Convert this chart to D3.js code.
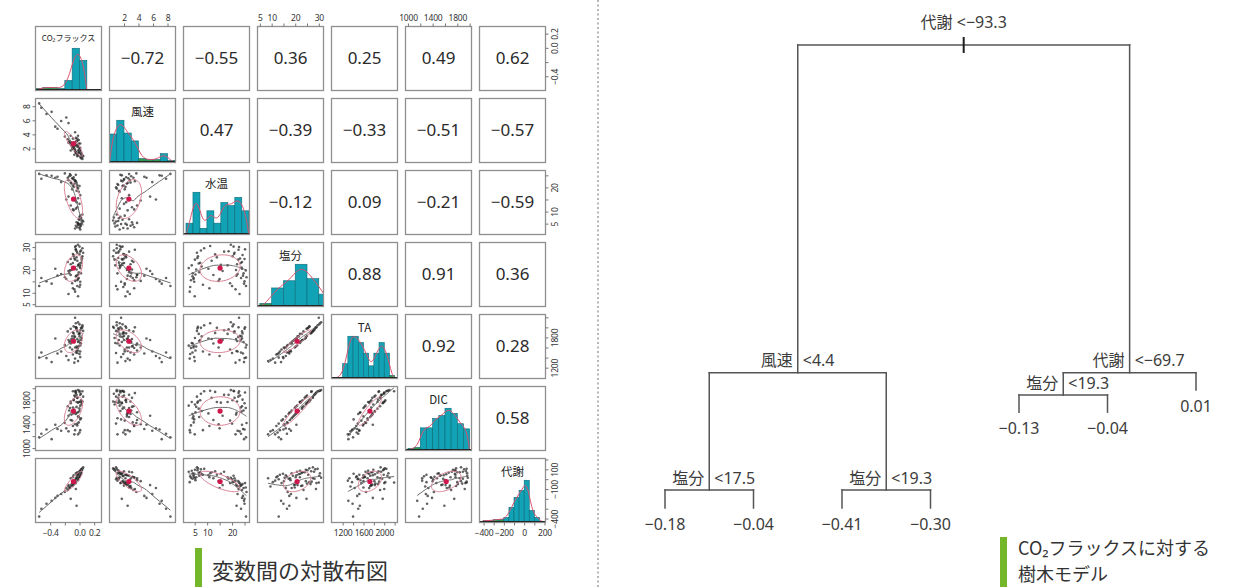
<!DOCTYPE html>
<html>
<head>
<meta charset="utf-8">
<script src="https://cdn.jsdelivr.net/npm/d3@7"></script>
<style>
  html, body { margin: 0; padding: 0; background: #fff; }
  svg { display: block; font-family: "Noto Sans", "Noto Sans CJK JP", sans-serif; }
</style>
</head>
<body>
<svg id="chart" width="1252" height="587"></svg>
<script>
// ---------- variables of the scatter matrix ----------
const varNames = ["CO₂フラックス", "風速", "水温", "塩分", "TA", "DIC", "代謝"];

// observations (winter, intermediate and summer surveys)
const co2Flux = [0.02,0.01,-0.02,0.03,0.00,-0.04,0.04,0.01,-0.01,0.02,-0.03,0.05,0.00,-0.05,0.03,0.01,-0.02,0.02,-0.06,0.00,0.04,-0.01,0.01,-0.02,
  -0.08,-0.03,-0.12,0.00,-0.06,-0.02,-0.15,0.01,-0.09,-0.04,-0.18,-0.05,
  -0.06,-0.10,-0.03,-0.14,-0.08,-0.05,-0.12,-0.02,-0.20,-0.07,-0.11,-0.04,-0.16,-0.09,-0.13,-0.06,-0.30,-0.45,-0.52,-0.38,-0.55,-0.25,-0.10,-0.07,-0.15,-0.03,-0.08,-0.01,-0.05,-0.12,-0.04,0.00,-0.33,-0.09];
const windSpeed = [1.1,0.8,2.4,0.7,1.9,3.1,0.5,1.6,2.7,1.3,3.4,0.9,1.5,2.9,1.2,2.1,3.8,0.6,2.5,1.8,1.0,3.2,1.4,2.2,
  2.5,3.1,3.8,2.0,4.3,1.7,5.6,2.7,3.4,2.3,6.4,1.4,
  1.8,2.6,1.2,3.0,2.2,1.5,2.9,1.0,3.7,2.0,2.4,1.3,3.3,1.9,2.7,1.6,4.8,6.9,7.8,7.2,8.4,5.9,2.1,1.1,2.8,0.9,2.3,1.4,3.5,1.7,2.5,1.8,5.1,2.0];
const waterTemp = [4.2,3.8,4.5,5.1,3.2,5.6,6.3,4.8,6.8,7.2,3.5,5.9,7.8,4.1,6.1,8.3,5.3,7.5,3.0,6.6,8.8,4.6,2.6,5.0,
  10.5,11.8,12.5,13.2,14.6,15.5,16.2,16.8,10.9,13.9,15.0,11.2,
  22.5,23.8,21.0,24.6,20.2,25.2,22.0,19.5,25.8,23.2,21.6,18.6,24.0,20.8,25.5,22.8,24.4,25.0,23.6,24.8,25.6,22.2,19.2,21.4,23.0,20.0,24.2,18.2,22.6,25.0,21.8,20.6,24.0,23.5];
const salinity = [18.5,22.0,16.0,24.5,12.5,20.2,26.0,14.8,19.0,23.1,15.5,27.5,21.5,17.2,25.2,13.5,18.0,28.5,10.5,22.8,29.5,16.5,20.8,8.5,
  20.5,24.0,17.8,26.8,15.2,22.2,19.5,28.0,12.0,25.5,16.0,30.5,
  24.5,21.0,27.5,18.5,26.0,29.0,22.5,31.0,16.8,25.0,20.0,28.2,23.5,27.0,19.8,30.0,17.5,15.0,16.5,14.0,13.0,18.2,14.2,11.5,9.5,13.0,26.5,22.0,28.8,24.8,17.5,30.2,20.5,23.0];
const alkalinity = [1680,1690,1600,1790,1470,1620,2010,1410,1730,1750,1590,1930,1820,1500,1980,1520,1540,1990,1380,1870,2040,1630,1640,1330,
  1780,1770,1680,1890,1600,1710,1750,1940,1460,1990,1430,2080,
  1810,1820,1920,1710,2020,2000,1730,2100,1650,1830,1770,1960,1920,1900,1600,2190,1480,1390,1500,1310,1400,1520,1560,1300,1350,1490,1880,1870,2000,1970,1530,2060,1780,1750];
const dicValues = [1500,1770,1530,1730,1260,1690,1780,1480,1520,1800,1380,1860,1620,1570,1760,1300,1600,1910,1300,1660,1950,1430,1710,1230,
  1580,1840,1470,1940,1400,1760,1540,1890,1370,1770,1330,1960,
  1860,1610,1840,1630,1800,1930,1780,1970,1420,1880,1560,1890,1700,1950,1670,1950,1320,1310,1240,1150,1180,1290,1460,1230,1280,1410,1810,1770,1920,1750,1590,1960,1390,1680];
const metabolism = [60,85,40,95,30,20,110,55,35,70,15,120,50,5,90,45,-10,100,-30,65,105,25,75,10,
  40,70,10,80,-20,55,-60,75,20,45,-90,60,
  -20,-60,10,-90,-30,-40,-70,15,-130,-45,-55,5,-110,-25,-85,-35,-170,-250,-300,-220,-380,-150,-40,-15,-75,0,-50,20,-100,-200,-270,35,-190,-65];

// value range of each variable in its panels
const varDomains = [[-0.6, 0.3], [0, 9.1], [0.5, 27], [4, 32], [985, 2255], [960, 2030], [-440, 210]];

// correlation coefficients, upper triangle, row by row
const corrValues = [-0.72, -0.55, 0.36, 0.25, 0.49, 0.62,
  0.47, -0.39, -0.33, -0.51, -0.57,
  -0.12, 0.09, -0.21, -0.59,
  0.88, 0.91, 0.36,
  0.92, 0.28,
  0.58];

// histogram bins on the diagonal
const histStart = [-0.6, 0, 1.5, 5, 1000, 1000, -450];
const histStep = [0.1, 1, 2.8, 5, 100, 100, 50];
const co2Hist = [2, 3, 3, 2, 10, 42, 30];
const windHist = [29, 43, 30, 22, 4, 3, 3, 9, 2];
const tempHist = [11, 41, 6, 23, 11, 31, 28, 36, 23];
const salHist = [3, 18, 25, 41, 27, 12];
const taHist = [1, 1, 14, 40, 40, 34, 24, 12, 24, 34, 24, 3];
const dicHist = [2, 3, 22, 22, 31, 34, 41, 36, 26, 21];
const metHist = [1, 2, 2, 3, 3, 5, 15, 25, 32, 42, 12, 5, 1];

// axis ticks and the tick labels that are printed
const axisTicks = [[-0.4, -0.2, 0, 0.2], [2, 4, 6, 8], [5, 10, 15, 20, 25], [5, 10, 15, 20, 25, 30],
  [1200, 1400, 1600, 1800, 2000, 2200], [1000, 1200, 1400, 1600, 1800, 2000], [-400, -300, -200, -100, 0, 100, 200]];
const outerLabels = [[-0.4, 0, 0.2], [2, 4, 6, 8], [5, 10, 20], [5, 10, 20, 30], [1200, 1600, 2000], [1000, 1400, 1800], [-400, -200, 0, 200]];
const sideLabels = [[-0.4, 0, 0.2], [2, 4, 6, 8], [5, 10, 20], [5, 10, 20, 30], [1200, 1800], [1000, 1400, 1800], [-400, -100, 100]];

// ---------- regression tree ----------
const treeNodes = [
  { id: "n1", parent: null, split: "代謝", threshold: -93.3, dev: 1.000 },
  { id: "n2", parent: "n1", split: "風速", threshold: 4.4, dev: 0.292 },
  { id: "n4", parent: "n2", split: "塩分", threshold: 17.5, dev: 0.039 },
  { id: "n8", parent: "n4", value: -0.18, dev: 0 },
  { id: "n9", parent: "n4", value: -0.04, dev: 0 },
  { id: "n5", parent: "n2", split: "塩分", threshold: 19.3, dev: 0.039 },
  { id: "n10", parent: "n5", value: -0.41, dev: 0 },
  { id: "n11", parent: "n5", value: -0.30, dev: 0 },
  { id: "n3", parent: "n1", split: "代謝", threshold: -69.7, dev: 0.292 },
  { id: "n6", parent: "n3", split: "塩分", threshold: 19.3, dev: 0.244 },
  { id: "n12", parent: "n6", value: -0.13, dev: 0.207 },
  { id: "n13", parent: "n6", value: -0.04, dev: 0.207 },
  { id: "n7", parent: "n3", value: 0.01, dev: 0.255 }
];

// ================= drawing =================
const svg = d3.select("#chart");
const series = [co2Flux, windSpeed, waterTemp, salinity, alkalinity, dicValues, metabolism];
const hists = [co2Hist, windHist, tempHist, salHist, taHist, dicHist, metHist];
const idx = d3.range(7);
const gx = d3.scaleBand().domain(idx).range([35.5, 545.5]).paddingInner(8 / 74);
const gy = d3.scaleBand().domain(idx).range([26.5, 522.5]).paddingInner(8 / 72);
const bw = gx.bandwidth(), bh = gy.bandwidth();
const xScale = k => d3.scaleLinear().domain(varDomains[k]).range([gx(k), gx(k) + bw]);
const yScale = k => d3.scaleLinear().domain(varDomains[k]).range([gy(k) + bh, gy(k)]);
const tickFmt = idx.map(k => k === 0 ? d3.format(".1f") : d3.format("d"));
const corrFmt = d3.format(".2f");

function pearson(a, b) {
  const ma = d3.mean(a), mb = d3.mean(b);
  let sab = 0, saa = 0, sbb = 0;
  a.forEach((v, i) => { sab += (v - ma) * (b[i] - mb); saa += (v - ma) ** 2; sbb += (b[i] - mb) ** 2; });
  return sab / Math.sqrt(saa * sbb);
}

// locally weighted linear smoother
function lowess(xv, yv, span) {
  const order = d3.range(xv.length).sort((a, b) => xv[a] - xv[b]);
  const xs = order.map(i => xv[i]), ys = order.map(i => yv[i]);
  const n = xs.length, q = Math.max(3, Math.floor(span * n));
  return xs.map(x0 => {
    const dist = xs.map(x => Math.abs(x - x0));
    const h = Math.max(dist.slice().sort((a, b) => a - b)[q - 1], 1e-9) * 1.0001;
    let sw = 0, sx = 0, sy = 0, sxx = 0, sxy = 0;
    for (let j = 0; j < n; j++) {
      const u = dist[j] / h;
      if (u >= 1) continue;
      const w = Math.pow(1 - u * u * u, 3);
      sw += w; sx += w * xs[j]; sy += w * ys[j]; sxx += w * xs[j] * xs[j]; sxy += w * xs[j] * ys[j];
    }
    const mx = sx / sw, my = sy / sw, vx = sxx / sw - mx * mx;
    const b = vx > 1e-12 ? (sxy / sw - mx * my) / vx : 0;
    return [x0, my + b * (x0 - mx)];
  });
}

const defs = svg.append("defs");
const matrix = svg.append("g");
let corrIndex = 0;

idx.forEach(row => idx.forEach(col => {
  const x0 = gx(col), y0 = gy(row);
  const clipId = `clip-${row}-${col}`;
  defs.append("clipPath").attr("id", clipId)
    .append("rect").attr("x", x0).attr("y", y0).attr("width", bw).attr("height", bh);
  const g = matrix.append("g");
  const inner = g.append("g").attr("clip-path", `url(#${clipId})`);

  if (row === col) {
    // histogram with smoothed outline
    const xs = xScale(col);
    const counts = hists[col];
    const maxC = d3.max(counts);
    const ys = d3.scaleLinear().domain([0, maxC / 0.66]).range([y0 + bh, y0]);
    const bins = counts.map((c, i) => ({ a: histStart[col] + i * histStep[col], b: histStart[col] + (i + 1) * histStep[col], c }));
    inner.selectAll("rect.bar").data(bins).join("rect")
      .attr("class", "bar")
      .attr("x", d => xs(d.a)).attr("width", d => xs(d.b) - xs(d.a))
      .attr("y", d => ys(d.c)).attr("height", d => ys(0) - ys(d.c))
      .attr("fill", d => d.c < 0.1 * maxC ? "#2f9a4e" : "#12a2b5")
      .attr("stroke", "#0b6a78").attr("stroke-width", 0.6);
    const pts = [[bins[0].a, 0], ...bins.map(d => [(d.a + d.b) / 2, d.c]), [bins[bins.length - 1].b, 0]];
    inner.append("path")
      .attr("d", d3.line().x(d => xs(d[0])).y(d => ys(d[1])).curve(d3.curveBasis)(pts))
      .attr("fill", "none").attr("stroke", "#d9506e").attr("stroke-width", 1);
    inner.append("line").attr("x1", x0).attr("x2", x0 + bw)
      .attr("y1", ys(0) - 0.8).attr("y2", ys(0) - 0.8)
      .attr("stroke", "#161616").attr("stroke-width", 1.6);
    g.append("text")
      .attr("x", x0 + bw / 2).attr("y", y0 + (col === 0 ? 12 : 13))
      .attr("dy", "0.35em").attr("text-anchor", "middle")
      .attr("font-family", "'Noto Sans CJK JP', 'Noto Sans', sans-serif")
      .attr("font-size", col === 0 ? 8 : 11.5).attr("fill", "#222")
      .text(varNames[col]);
  } else if (col > row) {
    g.append("text")
      .attr("x", x0 + bw / 2).attr("y", y0 + bh / 2)
      .attr("dy", "0.35em").attr("text-anchor", "middle")
      .attr("font-size", 17).attr("fill", "#2a2a2a")
      .text(corrFmt(corrValues[corrIndex++]));
  } else {
    // scatter of column variable (x) against row variable (y)
    const xs = xScale(col), ys = yScale(row);
    const X = series[col], Y = series[row];
    inner.selectAll("circle.pt").data(X).join("circle")
      .attr("class", "pt")
      .attr("cx", d => xs(d)).attr("cy", (d, i) => ys(Y[i]))
      .attr("r", 1.3).attr("fill", "#262626").attr("fill-opacity", 0.72);
    const sm = lowess(X, Y, 2 / 3);
    inner.append("path")
      .attr("d", d3.line().x(d => xs(d[0])).y(d => ys(d[1]))(sm))
      .attr("fill", "none").attr("stroke", "#6a6a6a").attr("stroke-width", 1);
    const mx = d3.mean(X), my = d3.mean(Y), sdx = d3.deviation(X), sdy = d3.deviation(Y);
    const r = Math.max(-1, Math.min(1, pearson(X, Y)));
    const dAng = Math.acos(r);
    const ell = d3.range(0, 81).map(t => {
      const a = t / 80 * 2 * Math.PI;
      return [mx + sdx * Math.cos(a + dAng / 2), my + sdy * Math.cos(a - dAng / 2)];
    });
    inner.append("path")
      .attr("d", d3.line().x(d => xs(d[0])).y(d => ys(d[1]))(ell))
      .attr("fill", "none").attr("stroke", "#d98296").attr("stroke-width", 1);
    inner.append("circle").attr("cx", xs(mx)).attr("cy", ys(my)).attr("r", 2.6).attr("fill", "#d0174c");
  }

  g.append("rect").attr("x", x0).attr("y", y0).attr("width", bw).attr("height", bh)
    .attr("fill", "none").attr("stroke", "#8f8f8f").attr("stroke-width", 1.3);
}));

// ---------- outer axes of the matrix ----------
function styleAxis(sel) {
  sel.select(".domain").remove();
  sel.selectAll(".tick line").attr("stroke", "#777");
  sel.selectAll(".tick text").attr("fill", "#333").attr("font-size", 8.5)
    .attr("letter-spacing", "-0.2")
    .attr("font-family", "'Noto Sans', sans-serif");
  sel.attr("font-family", null).attr("font-size", null);
}
const axes = svg.append("g");
[1, 3, 5].forEach(k => {
  axes.append("g").attr("transform", `translate(0,${gy(0)})`)
    .call(d3.axisTop(xScale(k)).tickValues(axisTicks[k]).tickSize(3).tickPadding(3)
      .tickFormat(d => outerLabels[k].includes(d) ? tickFmt[k](d) : ""))
    .call(styleAxis);
});
[0, 2, 4, 6].forEach(k => {
  axes.append("g").attr("transform", `translate(0,${gy(6) + bh})`)
    .call(d3.axisBottom(xScale(k)).tickValues(axisTicks[k]).tickSize(3).tickPadding(4)
      .tickFormat(d => outerLabels[k].includes(d) ? tickFmt[k](d) : ""))
    .call(styleAxis);
});
[1, 3, 5].forEach(k => {
  const a = axes.append("g").attr("transform", `translate(${gx(0)},0)`)
    .call(d3.axisLeft(yScale(k)).tickValues(axisTicks[k]).tickSize(3)
      .tickFormat(d => sideLabels[k].includes(d) ? tickFmt[k](d) : ""))
    .call(styleAxis);
  a.selectAll(".tick text").attr("transform", "rotate(-90)")
    .attr("x", 0).attr("y", -6).attr("dy", "0").attr("text-anchor", "middle");
});
[0, 2, 4, 6].forEach(k => {
  const a = axes.append("g").attr("transform", `translate(${gx(6) + bw},0)`)
    .call(d3.axisRight(yScale(k)).tickValues(axisTicks[k]).tickSize(3)
      .tickFormat(d => sideLabels[k].includes(d) ? tickFmt[k](d) : ""))
    .call(styleAxis);
  a.selectAll(".tick text").attr("transform", "rotate(-90)")
    .attr("x", 0).attr("y", 12).attr("dy", "0").attr("text-anchor", "middle");
});

// ---------- separator ----------
svg.append("line").attr("x1", 598).attr("x2", 598).attr("y1", 0).attr("y2", 587)
  .attr("stroke", "#6e6e6e").attr("stroke-width", 1).attr("stroke-dasharray", "2,2.5");

// ---------- tree ----------
const root = d3.stratify().id(d => d.id).parentId(d => d.parent)(treeNodes);
const leaves = root.leaves();
const tx = d3.scalePoint().domain(leaves.map(d => d.id)).range([665, 1196]);
const ty = d3.scaleLinear().domain([0, 1]).range([508, 45]);
root.eachAfter(n => {
  n.px = n.children ? d3.mean(n.children, c => c.px) : tx(n.id);
  n.py = ty(n.data.dev);
});
const tree = svg.append("g").attr("stroke-linecap", "square");
const lineCol = "#555";
root.descendants().filter(n => n.children).forEach(n => {
  const [l, r] = [n.children[0], n.children[n.children.length - 1]];
  tree.append("line").attr("x1", l.px).attr("x2", r.px).attr("y1", n.py).attr("y2", n.py)
    .attr("stroke", lineCol).attr("stroke-width", 1.5);
  n.children.forEach(c => {
    tree.append("line").attr("x1", c.px).attr("x2", c.px).attr("y1", n.py).attr("y2", c.py)
      .attr("stroke", lineCol).attr("stroke-width", 1.5);
  });
});
tree.append("line").attr("x1", root.px).attr("x2", root.px).attr("y1", root.py - 7).attr("y2", root.py + 7)
  .attr("stroke", "#1e1e1e").attr("stroke-width", 2);

const thrFmt = d3.format(".1f");
const leafFmt = d3.format(".2f");
const treeText = svg.append("g").attr("font-size", 16).attr("fill", "#3c3c3c");
root.descendants().forEach(n => {
  if (n.children) {
    if (n === root) {
      treeText.append("text").attr("x", n.px).attr("y", n.py - 23).attr("dy", "0.35em")
        .attr("text-anchor", "middle").text(`${n.data.split} <${thrFmt(n.data.threshold)}`);
    } else {
      const ly = n.py - 12;
      treeText.append("text").attr("x", n.px - 5).attr("y", ly).attr("dy", "0.35em")
        .attr("text-anchor", "end").text(n.data.split);
      treeText.append("text").attr("x", n.px + 5).attr("y", ly).attr("dy", "0.35em")
        .attr("text-anchor", "start").text(`<${thrFmt(n.data.threshold)}`);
    }
  } else {
    treeText.append("text").attr("x", n.px).attr("y", n.py + 16).attr("dy", "0.35em")
      .attr("text-anchor", "middle").text(leafFmt(n.data.value));
  }
});

// ---------- captions ----------
const capGreen = "#74b72a";
const caps = svg.append("g").attr("fill", "#333")
  .attr("font-family", "'Noto Sans CJK JP', 'Noto Sans', sans-serif");
caps.append("rect").attr("x", 195).attr("y", 548).attr("width", 7).attr("height", 39).attr("fill", capGreen);
caps.append("text").attr("x", 212).attr("y", 579).attr("font-size", 22).text("変数間の対散布図");
caps.append("rect").attr("x", 1000).attr("y", 537).attr("width", 7).attr("height", 50).attr("fill", capGreen);
caps.append("text").attr("x", 1018).attr("y", 555).attr("font-size", 18).text("CO₂フラックスに対する");
caps.append("text").attr("x", 1018).attr("y", 581).attr("font-size", 18).text("樹木モデル");
</script>
</body>
</html>
